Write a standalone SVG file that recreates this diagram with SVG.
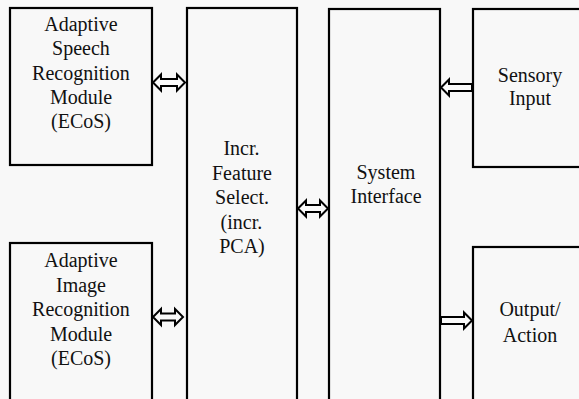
<svg xmlns="http://www.w3.org/2000/svg" width="579" height="399" viewBox="0 0 579 399">
<rect width="579" height="399" fill="#f8f8f8"/>
<g id="speech">
<rect x="10" y="8" width="142" height="157" fill="#f8f8f8" stroke="#000" stroke-width="2.2"/>
<text x="44.3" y="31" font-family="Liberation Serif" font-size="20" fill="#111">Adaptive</text>
<text x="52.1" y="55" font-family="Liberation Serif" font-size="20" fill="#111">Speech</text>
<text x="32.1" y="79.5" font-family="Liberation Serif" font-size="20" fill="#111">Recognition</text>
<text x="49.9" y="104" font-family="Liberation Serif" font-size="20" fill="#111">Module</text>
<text x="51" y="128" font-family="Liberation Serif" font-size="20" fill="#111">(ECoS)</text>
</g>
<g id="image">
<rect x="10" y="243" width="142" height="170" fill="#f8f8f8" stroke="#000" stroke-width="2.2"/>
<text x="44.3" y="267" font-family="Liberation Serif" font-size="20" fill="#111">Adaptive</text>
<text x="56" y="291.5" font-family="Liberation Serif" font-size="20" fill="#111">Image</text>
<text x="32.1" y="316" font-family="Liberation Serif" font-size="20" fill="#111">Recognition</text>
<text x="49.9" y="340.5" font-family="Liberation Serif" font-size="20" fill="#111">Module</text>
<text x="51" y="365" font-family="Liberation Serif" font-size="20" fill="#111">(ECoS)</text>
</g>
<g id="feature">
<rect x="187" y="8" width="110" height="410" fill="#f8f8f8" stroke="#000" stroke-width="2.2"/>
<text x="223.4" y="155" font-family="Liberation Serif" font-size="20" fill="#111">Incr.</text>
<text x="212" y="180" font-family="Liberation Serif" font-size="20" fill="#111">Feature</text>
<text x="215.1" y="204" font-family="Liberation Serif" font-size="20" fill="#111">Select.</text>
<text x="220.6" y="229" font-family="Liberation Serif" font-size="20" fill="#111">(incr.</text>
<text x="219.2" y="253" font-family="Liberation Serif" font-size="20" fill="#111">PCA)</text>
</g>
<g id="system">
<rect x="329" y="9" width="111" height="410" fill="#f8f8f8" stroke="#000" stroke-width="2.2"/>
<text x="356.5" y="179" font-family="Liberation Serif" font-size="20" fill="#111">System</text>
<text x="350.5" y="203" font-family="Liberation Serif" font-size="20" fill="#111">Interface</text>
</g>
<g id="sensory">
<rect x="473" y="9" width="120" height="158" fill="#f8f8f8" stroke="#000" stroke-width="2.2"/>
<text x="497.8" y="82" font-family="Liberation Serif" font-size="20" fill="#111">Sensory</text>
<text x="508.9" y="105" font-family="Liberation Serif" font-size="20" fill="#111">Input</text>
</g>
<g id="output">
<rect x="473" y="247" width="120" height="170" fill="#f8f8f8" stroke="#000" stroke-width="2.2"/>
<text x="499.4" y="316" font-family="Liberation Serif" font-size="20" fill="#111">Output/</text>
<text x="502.8" y="342" font-family="Liberation Serif" font-size="20" fill="#111">Action</text>
</g>
<g id="connectors" fill="#fafafa" stroke="#000" stroke-width="2">
<polygon points="153,82.5 161,74.5 161,79 177,79 177,74.5 185,82.5 177,90.5 177,86 161,86 161,90.5"/>
<polygon points="153,317 161,309 161,313.5 175,313.5 175,309 183,317 175,325 175,320.5 161,320.5 161,325"/>
<polygon points="298,208.5 306,200.5 306,205 320,205 320,200.5 328,208.5 320,216.5 320,212 306,212 306,216.5"/>
<polygon points="441,87.5 449,79.5 449,84 472,84 472,91 449,91 449,95.5"/>
<polygon points="472,320.5 464,312.5 464,317 441,317 441,324 464,324 464,328.5"/>
</g>
</svg>
